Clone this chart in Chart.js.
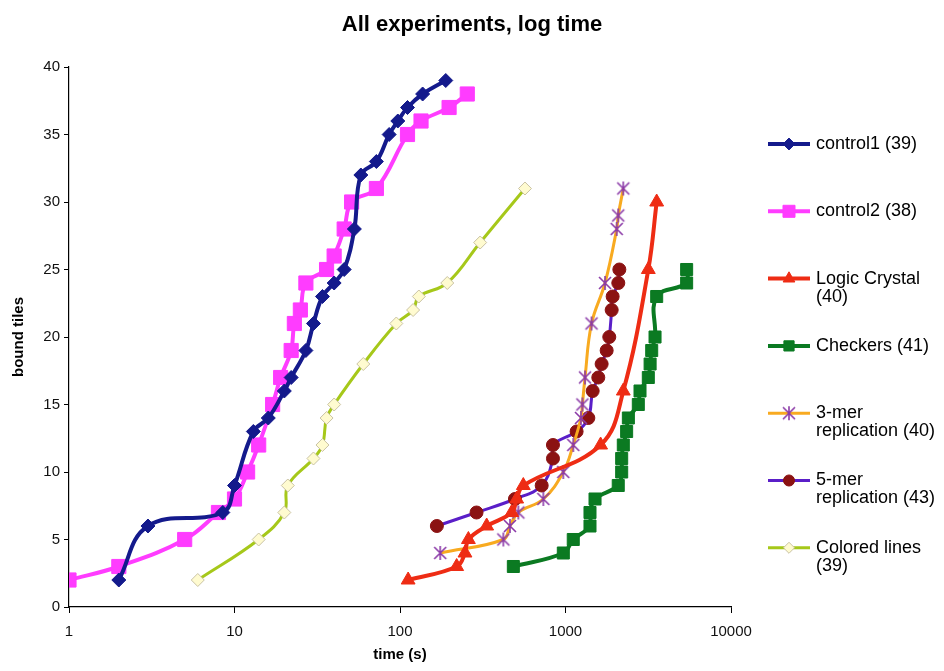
<!DOCTYPE html>
<html>
<head>
<meta charset="utf-8">
<script src="https://cdn.jsdelivr.net/npm/chart.js@4.4.1/dist/chart.umd.min.js"></script>
<style>
  html, body { margin: 0; padding: 0; background: #fff; }
</style>
</head>
<body>
<canvas id="chart" width="944" height="671"></canvas>
<script>
// time (s) and bound tiles, one pair of arrays per experiment
const control1Time = [2, 3, 8.5, 10, 13, 16, 20, 22, 27, 30, 34, 40, 46, 53, 58, 72, 86, 97, 111, 137, 189];
const control1Tiles = [2, 6, 7, 9, 13, 14, 16, 17, 19, 21, 23, 24, 25, 28, 32, 33, 35, 36, 37, 38, 39];

const control2Time = [1, 2, 5, 8, 10, 12, 14, 17, 19, 22, 23, 25, 27, 36, 40, 46, 51, 72, 111, 134, 198, 255];
const control2Tiles = [2, 3, 5, 7, 8, 10, 12, 15, 17, 19, 21, 22, 24, 25, 26, 28, 30, 31, 35, 36, 37, 38];

const logicTime = [112, 220, 247, 259, 334, 473, 507, 556, 1630, 2235, 3165, 3556];
const logicTiles = [2, 3, 4, 5, 6, 7, 8, 9, 12, 16, 25, 30];

const checkersTime = [484, 970, 1114, 1406, 1406, 1508, 2083, 2185, 2185, 2235, 2341, 2398, 2754, 2820, 3165, 3245, 3318, 3475, 3556, 5395, 5395];
const checkersTiles = [3, 4, 5, 6, 7, 8, 9, 10, 11, 12, 13, 14, 15, 16, 17, 18, 19, 20, 23, 24, 25];

const mer3Time = [175, 421, 462, 519, 735, 970, 1114, 1240, 1265, 1312, 1437, 1733, 2039, 2083, 2235];
const mer3Tiles = [4, 5, 6, 7, 8, 10, 12, 14, 15, 17, 21, 24, 28, 29, 31];

const mer5Time = [167, 290, 495, 718, 840, 840, 1167, 1374, 1459, 1578, 1653, 1773, 1839, 1901, 1927, 2085, 2115];
const mer5Tiles = [6, 7, 8, 9, 11, 12, 13, 14, 16, 17, 18, 19, 20, 22, 23, 24, 25];

const coloredTime = [6, 14, 20, 21, 30, 34, 36, 40, 60, 95, 120, 130, 193, 305, 569];
const coloredTiles = [2, 5, 7, 9, 11, 12, 14, 15, 18, 21, 22, 23, 24, 27, 31];

const seriesNames = [
  ['control1 (39)'],
  ['control2 (38)'],
  ['Logic Crystal', '(40)'],
  ['Checkers (41)'],
  ['3-mer', 'replication (40)'],
  ['5-mer', 'replication (43)'],
  ['Colored lines', '(39)']
];
const xTicks = [1, 10, 100, 1000, 10000];
const yTicks = [0, 5, 10, 15, 20, 25, 30, 35, 40];

const FONT = '"Liberation Sans", Arial, sans-serif';

function pairs(xs, ys) {
  return xs.map((x, i) => ({ x: x, y: ys[i] }));
}

// excel style asterisk marker
function makeStar(color) {
  const c = document.createElement('canvas');
  c.width = 16; c.height = 16;
  const g = c.getContext('2d');
  g.strokeStyle = color;
  g.lineWidth = 1.6;
  g.beginPath();
  g.moveTo(2, 2); g.lineTo(14, 14);
  g.moveTo(14, 2); g.lineTo(2, 14);
  g.moveTo(8, 1); g.lineTo(8, 15);
  g.stroke();
  return c;
}
const starMarker = makeStar('#8b3aa8');

function series(i, xs, ys, lineColor, style, radius, fill, border, width) {
  return {
    label: seriesNames[i].join(' '),
    data: pairs(xs, ys),
    showLine: true,
    tension: 0.4,
    borderColor: lineColor,
    borderWidth: width,
    pointStyle: style,
    pointRadius: radius,
    pointBackgroundColor: fill,
    pointBorderColor: border,
    pointBorderWidth: 1,
    order: i
  };
}

const datasets = [
  series(0, control1Time, control1Tiles, '#141a8c', 'rectRot', 7, '#141a8c', '#141a8c', 4),
  series(1, control2Time, control2Tiles, '#ff3cff', 'rect', 10, '#ff3cff', '#ff3cff', 4),
  series(2, logicTime, logicTiles, '#ee2c14', 'triangle', 8, '#ee2c14', '#ee2c14', 4),
  series(3, checkersTime, checkersTiles, '#0b7a22', 'rect', 8.5, '#0b7a22', '#0b7a22', 4),
  series(4, mer3Time, mer3Tiles, '#f8aa20', starMarker, 7, '#8b3aa8', '#8b3aa8', 3),
  series(5, mer5Time, mer5Tiles, '#5a1ec8', 'circle', 6.5, '#8b1212', '#8b1212', 3),
  series(6, coloredTime, coloredTiles, '#a6c81a', 'rectRot', 6.5, '#fffbd0', '#c9c2a4', 3)
];

const textPlugin = {
  id: 'texts',
  afterDraw(chart) {
    const ctx = chart.ctx;
    ctx.save();
    ctx.fillStyle = '#000';
    ctx.textBaseline = 'middle';

    ctx.textAlign = 'center';
    ctx.font = 'bold 22px ' + FONT;
    ctx.fillText('All experiments, log time', 472, 25);

    ctx.font = 'bold 15px ' + FONT;
    ctx.fillText('time (s)', 400, 655);

    ctx.save();
    ctx.translate(19, 337);
    ctx.rotate(-Math.PI / 2);
    ctx.fillText('bound tiles', 0, 0);
    ctx.restore();

    // legend
    ctx.textAlign = 'left';
    ctx.font = '18px ' + FONT;
    chart.data.datasets.forEach((ds, i) => {
      const y = 144 + i * 67.3;
      ctx.strokeStyle = ds.borderColor;
      ctx.lineWidth = ds.borderWidth;
      ctx.beginPath();
      ctx.moveTo(768, y);
      ctx.lineTo(810, y);
      ctx.stroke();
      ctx.fillStyle = ds.pointBackgroundColor;
      ctx.strokeStyle = ds.pointBorderColor;
      ctx.lineWidth = 1;
      Chart.helpers.drawPoint(ctx, {
        pointStyle: ds.pointStyle,
        radius: ds.pointRadius * 0.85,
        rotation: 0,
        borderWidth: 1
      }, 789, y);
      ctx.fillStyle = '#000';
      seriesNames[i].forEach((line, k) => {
        ctx.fillText(line, 816, y + k * 18);
      });
    });
    ctx.restore();
  }
};

new Chart(document.getElementById('chart'), {
  type: 'scatter',
  data: { datasets: datasets },
  options: {
    responsive: false,
    animation: false,
    layout: { padding: { left: 8, right: 213, top: 67, bottom: 10 } },
    plugins: {
      legend: { display: false },
      tooltip: { enabled: false },
      title: { display: false }
    },
    scales: {
      x: {
        type: 'logarithmic',
        min: 1,
        max: 10000,
        afterBuildTicks: (scale) => { scale.ticks = xTicks.map(v => ({ value: v })); },
        afterFit: (scale) => { scale.height = 671 - 607 - 10; },
        ticks: {
          autoSkip: false,
          maxRotation: 0,
          padding: 10,
          color: '#111',
          font: { family: FONT, size: 15 },
          callback: (v) => String(v)
        },
        grid: { drawOnChartArea: false, drawTicks: true, tickLength: 6, color: '#000', lineWidth: 1 },
        border: { color: '#000', width: 1.2 }
      },
      y: {
        min: 0,
        max: 40,
        afterBuildTicks: (scale) => { scale.ticks = yTicks.map(v => ({ value: v })); },
        afterFit: (scale) => { scale.width = 69 - 8; },
        ticks: {
          padding: 4,
          color: '#111',
          font: { family: FONT, size: 15 }
        },
        grid: { drawOnChartArea: false, drawTicks: true, tickLength: 5, color: '#000', lineWidth: 1 },
        border: { color: '#000', width: 1.2 }
      }
    }
  },
  plugins: [textPlugin]
});
</script>
</body>
</html>
